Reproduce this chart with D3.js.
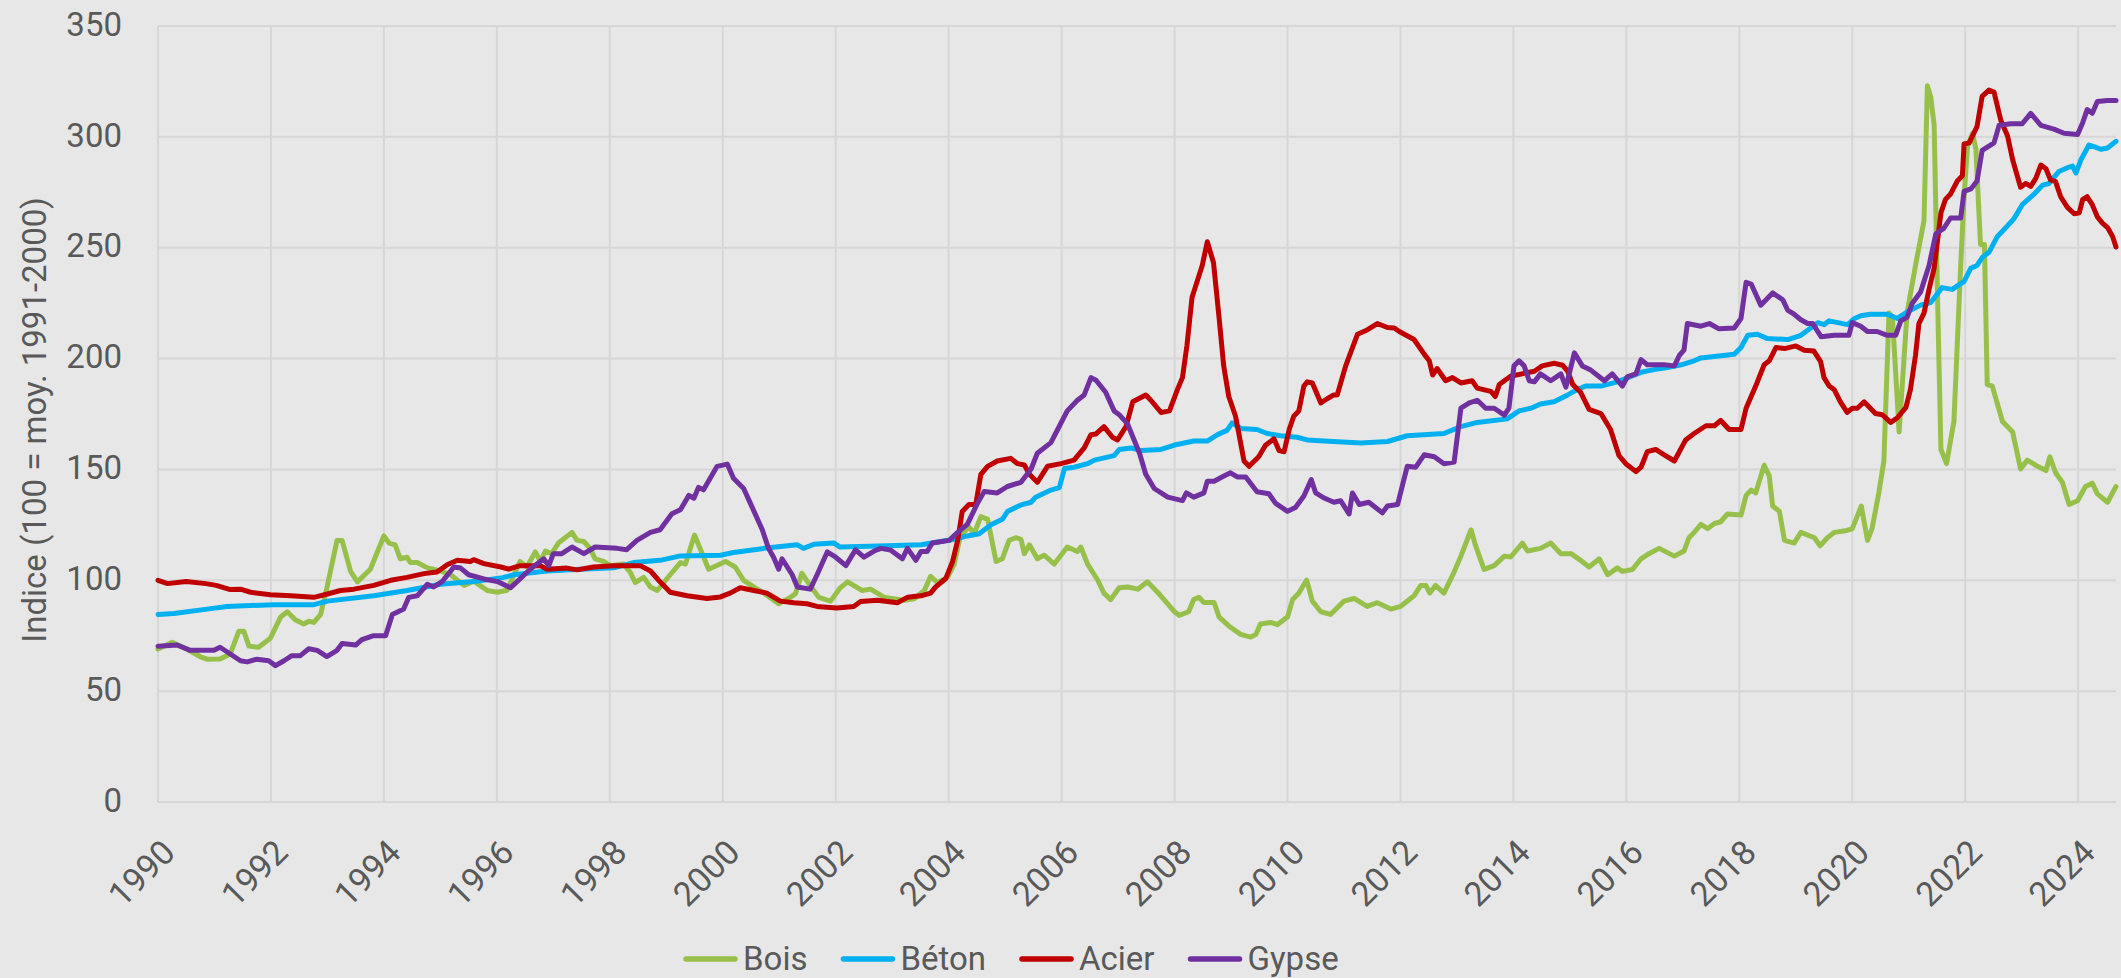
<!DOCTYPE html>
<html>
<head>
<meta charset="utf-8">
<script src="https://cdn.jsdelivr.net/npm/d3@7/dist/d3.min.js"></script>
<style>
  html, body { margin: 0; padding: 0; background: #E7E7E7; }
  svg { display: block; }
  text { font-family: Roboto, "Noto Sans", Arial, sans-serif; fill: #595959; }
</style>
</head>
<body>
<svg id="chart" width="2121" height="978"></svg>
<script>
// ---------- data (decimal year, index value) ----------
const seriesNames = ["Bois", "Béton", "Acier", "Gypse"];
const seriesColors = ["#97C04B", "#00B0F0", "#C00000", "#7030A0"];
const yearTicks = [1990,1992,1994,1996,1998,2000,2002,2004,2006,2008,2010,2012,2014,2016,2018,2020,2022,2024];
const valueTicks = [0,50,100,150,200,250,300,350];
const yTitle = "Indice (100 = moy. 1991-2000)";

const bois = [[1990.0,69],[1990.25,72],[1990.51,69],[1990.75,65.5],[1990.87,64.4],[1991.1,64.5],[1991.28,66.8],[1991.43,77],[1991.52,77],[1991.61,70.3],[1991.78,69.8],[1991.99,73.9],[1992.17,83.4],[1992.29,85.8],[1992.43,82.2],[1992.58,80.3],[1992.67,81.5],[1992.76,81],[1992.88,84.6],[1992.99,96.5],[1993.17,118],[1993.26,118],[1993.41,104],[1993.53,99.3],[1993.76,105],[1994.0,120],[1994.09,116.8],[1994.2,116],[1994.29,109.7],[1994.41,110.4],[1994.47,108],[1994.59,108],[1994.77,105.6],[1995.0,104.2],[1995.18,102.5],[1995.42,97.7],[1995.59,99.6],[1995.83,95.4],[1996.01,94.6],[1996.18,95.5],[1996.41,108.5],[1996.53,106],[1996.68,112.8],[1996.77,108.5],[1996.86,113.2],[1996.97,112],[1997.09,116.8],[1997.33,121.6],[1997.42,118],[1997.54,117.5],[1997.65,114.4],[1997.74,109.7],[1997.89,108.5],[1998.01,106.6],[1998.24,107.3],[1998.36,103.7],[1998.45,99],[1998.6,101.3],[1998.72,97],[1998.84,95.4],[1999.07,102.5],[1999.25,108],[1999.34,107.3],[1999.5,120.4],[1999.75,105],[2000.05,108.5],[2000.22,106],[2000.37,100],[2000.55,97],[2000.73,94.2],[2000.99,89.4],[2001.2,92.3],[2001.29,94],[2001.4,103.2],[2001.55,97.5],[2001.7,92.3],[2001.91,90.6],[2002.08,96.6],[2002.21,99.3],[2002.47,95.4],[2002.62,96],[2002.86,92.3],[2003.21,91],[2003.39,91.7],[2003.57,95.4],[2003.68,101.8],[2003.8,99],[2003.98,101.3],[2004.1,107.3],[2004.21,120.4],[2004.36,124],[2004.45,121],[2004.57,128.7],[2004.69,127.5],[2004.84,108.5],[2004.95,109.7],[2005.07,118],[2005.19,119.2],[2005.28,118.5],[2005.34,112],[2005.43,116],[2005.57,109.7],[2005.69,111.3],[2005.87,107.3],[2006.1,115],[2006.28,113],[2006.34,115],[2006.46,107.3],[2006.64,100],[2006.75,94.2],[2006.87,91.3],[2007.02,96.6],[2007.17,97],[2007.35,96],[2007.52,99.3],[2007.7,94.6],[2007.88,89.4],[2008.0,85.8],[2008.08,84.2],[2008.25,85.8],[2008.34,91.3],[2008.43,92.3],[2008.52,90],[2008.7,90],[2008.79,83.4],[2008.96,79.4],[2009.17,75.6],[2009.35,74.4],[2009.44,75.6],[2009.52,80.3],[2009.7,81],[2009.82,80],[2010.0,83.4],[2010.09,91.3],[2010.2,94.2],[2010.34,100.1],[2010.44,90.6],[2010.59,85.8],[2010.76,84.6],[2011.0,90.6],[2011.18,91.8],[2011.41,88.2],[2011.59,89.9],[2011.83,87],[2012.0,88.2],[2012.24,93],[2012.36,97.7],[2012.45,97.7],[2012.52,94.2],[2012.62,97.7],[2012.77,94.2],[2012.95,103.7],[2013.07,110.9],[2013.25,122.8],[2013.33,115.6],[2013.48,104.9],[2013.66,106.6],[2013.84,110.9],[2013.95,110.5],[2014.16,116.8],[2014.25,113.2],[2014.48,114.4],[2014.66,116.8],[2014.84,112],[2015.02,112],[2015.19,109],[2015.34,106],[2015.52,109.7],[2015.67,102.5],[2015.84,105.6],[2015.93,104],[2016.11,104.9],[2016.26,109.7],[2016.4,112],[2016.58,114.4],[2016.85,110.9],[2017.02,113.2],[2017.11,119.2],[2017.2,121.6],[2017.32,125.2],[2017.44,123.3],[2017.56,125.6],[2017.67,126.4],[2017.79,129.9],[2018.03,129.4],[2018.12,138.3],[2018.21,140.7],[2018.29,139.4],[2018.44,151.9],[2018.53,147.1],[2018.59,133.5],[2018.71,131.1],[2018.8,118],[2018.97,116.8],[2019.09,121.6],[2019.33,119.2],[2019.43,115.6],[2019.56,119.2],[2019.68,121.6],[2019.88,122.3],[2020.0,123.3],[2020.16,133.5],[2020.27,118],[2020.35,123.3],[2020.47,139.4],[2020.56,153.8],[2020.65,220.5],[2020.71,219],[2020.83,166.9],[2020.97,220.5],[2021.12,242],[2021.27,262.2],[2021.33,323],[2021.39,318],[2021.45,305.2],[2021.51,227.7],[2021.57,159],[2021.67,152.6],[2021.8,171.6],[2021.92,242],[2021.98,273],[2022.04,295.6],[2022.13,301.6],[2022.19,294.4],[2022.27,251.5],[2022.34,251.5],[2022.39,188.3],[2022.48,187.6],[2022.66,171.6],[2022.84,166.9],[2022.98,150.2],[2023.1,154.2],[2023.28,151.4],[2023.43,149.5],[2023.5,155.7],[2023.6,148.5],[2023.72,144.2],[2023.84,134.2],[2023.99,135.9],[2024.13,142.3],[2024.25,143.8],[2024.34,139],[2024.52,135.2],[2024.67,142.3]];

const beton = [[1990.0,84.6],[1990.28,85],[1990.87,87],[1991.22,88.2],[1992.05,89],[1992.76,89],[1993.0,90.6],[1993.82,93],[1994.41,95.4],[1995.0,98.2],[1995.59,99.4],[1996.07,101],[1996.3,102.5],[1996.89,104.2],[1997.48,105],[1998.07,105.6],[1998.42,108],[1998.89,109],[1999.25,111],[1999.96,111.3],[2000.19,112.5],[2000.73,114.4],[2001.32,116],[2001.43,114.4],[2001.61,116.2],[2001.97,116.8],[2002.08,115],[2002.92,115.6],[2003.51,116],[2003.86,117.5],[2004.1,118.5],[2004.33,120],[2004.54,121],[2004.75,125],[2004.95,127.5],[2005.04,131],[2005.28,134],[2005.46,135.2],[2005.54,137.5],[2005.81,140.7],[2005.96,141.8],[2006.05,150.4],[2006.22,151],[2006.46,152.6],[2006.58,154.2],[2006.93,156.2],[2007.02,159],[2007.23,159.7],[2007.4,158.5],[2007.76,159],[2008.0,161],[2008.34,162.8],[2008.58,162.8],[2008.76,165.7],[2008.93,167.6],[2009.02,171],[2009.17,168.5],[2009.46,168],[2009.64,166.2],[2009.88,165.2],[2010.17,164.5],[2010.35,163.3],[2010.65,162.8],[2011.3,161.9],[2011.77,162.6],[2012.12,165.2],[2012.48,165.7],[2012.77,166.2],[2013.07,169.3],[2013.36,171.2],[2013.89,172.8],[2014.1,176.4],[2014.31,177.6],[2014.48,179.5],[2014.72,180.5],[2014.96,183.6],[2015.13,186],[2015.28,187.6],[2015.55,187.6],[2015.84,189.5],[2016.26,193.8],[2016.49,195],[2016.73,196],[2016.97,197.2],[2017.2,199],[2017.32,200.3],[2017.91,201.9],[2018.03,205],[2018.15,210.5],[2018.32,211],[2018.5,209],[2018.86,208.6],[2019.09,210.5],[2019.39,216.2],[2019.5,215.3],[2019.59,217],[2019.92,215.3],[2020.04,218.1],[2020.15,219.3],[2020.32,220],[2020.62,220],[2020.8,218.1],[2020.97,221],[2021.21,224.1],[2021.39,225.3],[2021.59,232],[2021.77,231.2],[2021.98,234.8],[2022.1,240.8],[2022.21,242],[2022.3,245.6],[2022.42,247.9],[2022.57,255.1],[2022.75,259.9],[2022.86,263],[2023.01,269.4],[2023.22,274.2],[2023.37,278.2],[2023.48,278.9],[2023.66,284.4],[2023.81,286.1],[2023.9,286.8],[2023.96,283.7],[2024.05,289.7],[2024.19,296.3],[2024.28,295.6],[2024.4,294.4],[2024.52,295],[2024.67,298]];

const acier = [[1990.0,100],[1990.17,98.5],[1990.5,99.5],[1990.85,98.5],[1991.03,97.7],[1991.28,95.8],[1991.46,96],[1991.64,94.6],[1991.99,93.5],[1992.35,93],[1992.76,92.3],[1993.0,93.8],[1993.23,95.4],[1993.47,96],[1993.82,97.7],[1994.12,100],[1994.41,101.3],[1994.71,103],[1994.94,103.7],[1995.12,107],[1995.3,109],[1995.53,108.5],[1995.59,109.3],[1995.77,107.5],[1996.07,106],[1996.21,105],[1996.41,106.6],[1996.77,106.6],[1996.89,105],[1997.24,105.5],[1997.42,104.7],[1997.71,106],[1998.07,106.6],[1998.54,106.6],[1998.72,104.2],[1998.89,99.3],[1999.07,94.6],[1999.37,93],[1999.72,91.8],[1999.96,92.5],[2000.13,94.2],[2000.31,96.6],[2000.55,95.4],[2000.78,94.2],[2001.02,90.6],[2001.26,89.9],[2001.49,89.4],[2001.67,88.2],[2002.02,87.5],[2002.32,88.2],[2002.44,90.4],[2002.74,91],[2003.09,89.9],[2003.27,92.3],[2003.51,93],[2003.68,94.2],[2003.77,97],[2003.95,100.8],[2004.07,108.5],[2004.16,118],[2004.24,131],[2004.36,134.2],[2004.48,134.2],[2004.57,147.8],[2004.69,151.4],[2004.86,153.8],[2005.1,155],[2005.22,152.6],[2005.34,152],[2005.43,147.8],[2005.57,144.2],[2005.75,151.4],[2005.99,152.6],[2006.22,154.2],[2006.4,159.7],[2006.52,165.7],[2006.61,166],[2006.75,169.3],[2006.9,164.5],[2006.99,163.3],[2007.14,169.3],[2007.26,180.5],[2007.49,183.6],[2007.58,181.2],[2007.76,175.7],[2007.91,176.4],[2008.05,186],[2008.14,191.4],[2008.22,206],[2008.31,227.7],[2008.49,242],[2008.58,252.7],[2008.69,243.2],[2008.79,218],[2008.87,196.7],[2008.96,182.9],[2009.08,174],[2009.23,153.8],[2009.32,151.4],[2009.49,155.7],[2009.61,160.9],[2009.76,163.8],[2009.85,158.5],[2009.94,158],[2010.03,168],[2010.11,174],[2010.2,176.4],[2010.29,187.6],[2010.35,189.5],[2010.44,189],[2010.59,180],[2010.71,182],[2010.82,183.6],[2010.88,183.6],[2011.03,196.7],[2011.24,211],[2011.41,212.9],[2011.59,215.8],[2011.77,214],[2011.89,213.8],[2011.98,212.2],[2012.24,208.6],[2012.42,202],[2012.51,199],[2012.57,192.6],[2012.65,195.5],[2012.8,190],[2012.92,191.4],[2013.07,189],[2013.27,190],[2013.36,186.7],[2013.6,185.2],[2013.68,182.9],[2013.75,188.3],[2013.95,192],[2014.37,194.3],[2014.51,196.7],[2014.72,197.9],[2014.87,197],[2014.96,194.3],[2015.05,188.3],[2015.19,184.8],[2015.34,177.1],[2015.55,175.2],[2015.72,168],[2015.87,156.2],[2015.99,152.6],[2016.17,149],[2016.26,151],[2016.37,158],[2016.52,159],[2016.67,156.6],[2016.85,153.8],[2017.05,163.3],[2017.2,166.2],[2017.41,169.7],[2017.56,169.7],[2017.67,172.1],[2017.82,168],[2018.03,168],[2018.12,177.6],[2018.29,187.6],[2018.44,197.2],[2018.53,199],[2018.65,205],[2018.8,204.5],[2019.0,205.7],[2019.15,203.8],[2019.32,203.4],[2019.44,198.6],[2019.5,191.4],[2019.59,187.6],[2019.68,186],[2019.79,180.5],[2019.91,175.7],[2020.0,177.6],[2020.09,177.6],[2020.21,180.5],[2020.41,175.2],[2020.53,174.7],[2020.68,171.2],[2020.8,173.3],[2020.95,178],[2021.03,186],[2021.12,201.5],[2021.18,215.8],[2021.27,220.5],[2021.36,231.2],[2021.45,240.8],[2021.57,265.8],[2021.65,271.8],[2021.74,274.2],[2021.86,280.1],[2021.95,282.5],[2021.98,296.8],[2022.07,297.3],[2022.21,304.7],[2022.3,318.3],[2022.42,321.1],[2022.51,320.2],[2022.63,307.5],[2022.75,300.4],[2022.84,289.7],[2022.98,277.3],[2023.07,279],[2023.16,277.7],[2023.25,281.3],[2023.34,287.3],[2023.43,285.6],[2023.51,280.6],[2023.6,279.8],[2023.69,273],[2023.81,268.2],[2023.93,265.3],[2024.02,265.8],[2024.08,271.8],[2024.16,273],[2024.25,269.4],[2024.34,263.9],[2024.43,261.1],[2024.52,259.1],[2024.61,255.1],[2024.67,250.3]];

const gypse = [[1990.0,70.3],[1990.34,70.8],[1990.57,68.4],[1990.99,68.4],[1991.1,69.8],[1991.46,63.7],[1991.58,63.2],[1991.75,64.4],[1991.96,63.7],[1992.08,61.5],[1992.23,63.7],[1992.37,66],[1992.52,66],[1992.67,69.1],[1992.82,68.4],[1992.99,65.6],[1993.17,68.4],[1993.26,71.5],[1993.5,70.8],[1993.61,73.2],[1993.82,75],[1994.03,75],[1994.15,84.6],[1994.35,87],[1994.44,92.3],[1994.59,93],[1994.77,98.2],[1994.88,97],[1995.03,99.4],[1995.24,106],[1995.36,105.5],[1995.5,102.5],[1995.77,100.6],[1996.01,99.4],[1996.24,96.6],[1996.41,100.6],[1996.59,105],[1996.83,109.7],[1996.92,106.6],[1997.0,112],[1997.15,112],[1997.33,115],[1997.54,112],[1997.74,115],[1998.13,114.4],[1998.3,113.8],[1998.48,118],[1998.72,121.6],[1998.89,122.8],[1999.1,130],[1999.25,131.8],[1999.4,138.3],[1999.49,137],[1999.57,141.9],[1999.66,140.8],[1999.9,151.4],[2000.08,152.4],[2000.19,146],[2000.37,141.4],[2000.49,134.7],[2000.7,122.8],[2000.81,114.4],[2000.9,110.4],[2000.99,105],[2001.05,109.7],[2001.23,102.5],[2001.32,97],[2001.55,96],[2001.67,102.5],[2001.85,112.8],[2002.0,110.4],[2002.18,106.6],[2002.35,113.7],[2002.5,110.4],[2002.68,113.2],[2002.8,114.4],[2002.97,113.7],[2003.18,109.7],[2003.27,114.4],[2003.42,109],[2003.51,113],[2003.62,113],[2003.71,116.8],[2004.01,118],[2004.16,121.6],[2004.33,125.2],[2004.51,134.7],[2004.63,140],[2004.86,139.4],[2005.04,142.3],[2005.28,144.2],[2005.46,150.2],[2005.57,157.3],[2005.81,162.1],[2005.93,168],[2006.1,176.4],[2006.28,181.2],[2006.4,183.6],[2006.52,191.4],[2006.61,190.2],[2006.78,184.8],[2006.93,176.4],[2007.02,174.7],[2007.17,170.4],[2007.38,157.3],[2007.49,147.8],[2007.64,141.4],[2007.88,137.5],[2008.14,135.9],[2008.21,139.4],[2008.34,137.5],[2008.52,139.4],[2008.58,144.7],[2008.7,144.7],[2008.84,146.6],[2008.99,148.5],[2009.11,146.6],[2009.26,146.6],[2009.46,139.9],[2009.67,139],[2009.79,134.7],[2010.0,131.1],[2010.14,132.8],[2010.29,138],[2010.42,145.4],[2010.5,139.4],[2010.65,137.1],[2010.82,135.2],[2010.94,135.9],[2011.09,129.9],[2011.15,139.4],[2011.27,134.2],[2011.44,135.2],[2011.68,130.4],[2011.77,133.5],[2011.95,134.2],[2012.12,151.4],[2012.27,151],[2012.42,156.6],[2012.6,155.7],[2012.77,152.6],[2012.95,153.3],[2013.07,177.6],[2013.22,180],[2013.36,181.2],[2013.51,177.6],[2013.66,177.6],[2013.84,174.5],[2013.92,177.6],[2014.01,196.7],[2014.1,199],[2014.19,196.7],[2014.28,190],[2014.37,189.5],[2014.48,193.1],[2014.66,190],[2014.84,193.1],[2014.93,187.1],[2015.08,202.6],[2015.22,196.7],[2015.37,194.8],[2015.61,190],[2015.75,193.1],[2015.93,187.6],[2016.02,191.9],[2016.17,193.1],[2016.26,199.5],[2016.37,197.2],[2016.67,197.2],[2016.85,196.7],[2016.94,201.5],[2017.02,203.8],[2017.08,215.8],[2017.32,214.6],[2017.47,215.8],[2017.64,213.4],[2017.91,213.8],[2018.03,218.1],[2018.12,234.4],[2018.21,233.6],[2018.38,224.1],[2018.59,229.6],[2018.77,226.5],[2018.86,221.7],[2018.97,220],[2019.09,217.5],[2019.21,215.8],[2019.3,215.8],[2019.45,209.8],[2019.68,210.5],[2019.94,210.5],[2020.0,216.2],[2020.15,214.6],[2020.27,212.2],[2020.44,212.2],[2020.62,210.5],[2020.77,210.5],[2020.86,217],[2020.97,218.6],[2021.06,224.8],[2021.21,230],[2021.36,242],[2021.48,256.3],[2021.62,258.7],[2021.74,263.4],[2021.92,263.4],[2021.98,275.4],[2022.1,276.5],[2022.21,280.1],[2022.3,293.9],[2022.51,297.3],[2022.6,305.2],[2022.81,305.9],[2023.01,305.9],[2023.16,310.6],[2023.34,305.2],[2023.57,303.5],[2023.75,301.6],[2023.99,301.1],[2024.08,306.4],[2024.16,312.3],[2024.25,310.6],[2024.34,315.9],[2024.52,316.4],[2024.67,316.4]];

const seriesData = [bois, beton, acier, gypse];

// ---------- layout ----------
const W = 2121, H = 978;
const plot = { left: 158, right: 2116, top: 26, bottom: 802 };

const svg = d3.select("#chart");
svg.append("rect").attr("width", W).attr("height", H).attr("fill", "#E7E7E7");

const x = d3.scaleLinear().domain([1990, 2024.67]).range([plot.left, plot.right]);
const y = d3.scaleLinear().domain([0, 350]).range([plot.bottom, plot.top]);

// gridlines
const grid = svg.append("g");
grid.selectAll("line.h").data(valueTicks).join("line")
  .attr("x1", plot.left).attr("x2", plot.right)
  .attr("y1", d => y(d)).attr("y2", d => y(d))
  .attr("stroke", "#D6D6D6").attr("stroke-width", 2);
grid.selectAll("line.v").data(yearTicks).join("line")
  .attr("x1", d => x(d)).attr("x2", d => x(d))
  .attr("y1", plot.top).attr("y2", plot.bottom)
  .attr("stroke", "#D6D6D6").attr("stroke-width", 2);

// y axis
const yAxis = svg.append("g").attr("transform", `translate(${plot.left - 36},0)`)
  .call(d3.axisLeft(y).tickValues(valueTicks).tickSize(0).tickPadding(0));
yAxis.select(".domain").remove();
yAxis.selectAll("text").attr("font-size", 33).attr("fill", "#595959")
  .style("font-family", "Roboto, 'Noto Sans', sans-serif")
  .attr("dy", "0.28em").attr("x", 0);

// x axis
const xAxis = svg.append("g").attr("transform", `translate(0,${plot.bottom})`)
  .call(d3.axisBottom(x).tickValues(yearTicks).tickFormat(d3.format("d")).tickSize(0));
xAxis.select(".domain").remove();
xAxis.selectAll("text")
  .attr("font-size", 34).attr("fill", "#595959")
  .style("font-family", "Roboto, 'Noto Sans', sans-serif")
  .attr("text-anchor", "end")
  .attr("y", 0).attr("dy", "0.35em")
  .attr("transform", "translate(10,44) rotate(-45)");

// y title
svg.append("text")
  .attr("transform", `translate(46,${(plot.top + plot.bottom) / 2 + 6}) rotate(-90)`)
  .attr("text-anchor", "middle")
  .attr("font-size", 33)
  .text(yTitle);

// lines
const line = d3.line().x(d => x(d[0])).y(d => y(d[1]));
svg.append("g").selectAll("path").data(seriesData).join("path")
  .attr("d", line)
  .attr("fill", "none")
  .attr("stroke", (d, i) => seriesColors[i])
  .attr("stroke-width", 5)
  .attr("stroke-linejoin", "round")
  .attr("stroke-linecap", "round");

// legend
const legend = svg.append("g");
let lx = 683;
const ly = 959;
seriesNames.forEach((name, i) => {
  legend.append("line")
    .attr("x1", lx + 3).attr("x2", lx + 52).attr("y1", ly).attr("y2", ly)
    .attr("stroke", seriesColors[i]).attr("stroke-width", 5.5).attr("stroke-linecap", "round");
  const t = legend.append("text")
    .attr("x", lx + 60).attr("y", ly + 11)
    .attr("font-size", 33)
    .text(name);
  const w = t.node().getComputedTextLength();
  lx = lx + 60 + w + 33;
});
</script>
</body>
</html>
